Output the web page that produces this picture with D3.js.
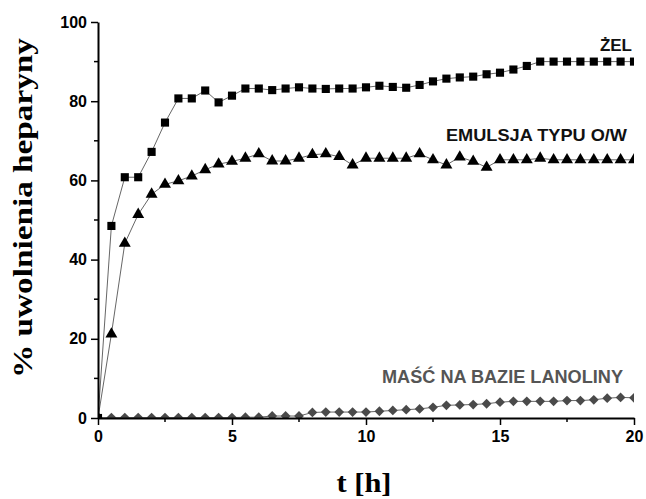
<!DOCTYPE html>
<html>
<head>
<meta charset="utf-8">
<script src="https://cdn.jsdelivr.net/npm/d3@7"></script>
<style>
  body { margin: 0; background: #fff; }
  svg { display: block; }
</style>
</head>
<body>
<div id="chart"></div>
<script>
// time points every 0.5 h
var hours = d3.range(0, 20.01, 0.5);

var zel = [0, 48.5, 60.8, 60.8, 67.2, 74.6, 80.7, 80.7, 82.7, 79.7,
  81.4, 83.2, 83.2, 82.8, 83.2, 83.5, 83.2, 83.1, 83.2, 83.2,
  83.5, 83.9, 83.6, 83.4, 84.1, 85.0, 85.7, 86.0, 86.2, 86.8,
  87.2, 88.0, 88.9, 90.0, 90.0, 90.0, 90.0, 90.0, 90.0, 90.0, 90.0];

var emulsja = [0, 21.2, 44.1, 51.4, 56.5, 59.0, 59.9, 61.1, 62.7, 64.1,
  64.8, 65.6, 66.7, 64.9, 64.9, 65.6, 66.5, 66.7, 66.0, 63.9,
  65.6, 65.6, 65.6, 65.6, 66.7, 65.2, 63.9, 65.9, 64.8, 63.3,
  65.2, 65.2, 65.2, 65.6, 65.2, 65.2, 65.2, 65.2, 65.2, 65.2, 65.2];

var masc = [0, 0.1, 0.1, 0.1, 0.1, 0.1, 0.1, 0.1, 0.1, 0.1,
  0.1, 0.2, 0.2, 0.5, 0.5, 0.5, 1.4, 1.5, 1.5, 1.5,
  1.5, 1.7, 1.9, 2.1, 2.3, 2.7, 3.2, 3.3, 3.4, 3.6,
  4.0, 4.2, 4.2, 4.2, 4.2, 4.4, 4.4, 4.6, 5.0, 5.2, 5.1];

var xTicks = [0, 5, 10, 15, 20];
var yTicks = [0, 20, 40, 60, 80, 100];

var width = 646, height = 499;
var margin = {left: 98, right: 12, top: 22, bottom: 81};

var svg = d3.select("#chart").append("svg")
  .attr("width", width).attr("height", height);

var x = d3.scaleLinear().domain([0, 20]).range([margin.left, width - margin.right]);
var y = d3.scaleLinear().domain([0, 100]).range([height - margin.bottom, margin.top]);

svg.append("clipPath").attr("id", "plot")
  .append("rect")
  .attr("x", x(0)).attr("y", 0)
  .attr("width", x(20) - x(0)).attr("height", y(0));

var plot = svg.append("g").attr("clip-path", "url(#plot)");

function series(values, color, symbol, size, rotate) {
  var pts = hours.map(function (h, i) { return [h, values[i]]; });
  plot.append("path")
    .datum(pts)
    .attr("fill", "none")
    .attr("stroke", "#555")
    .attr("stroke-width", 0.9)
    .attr("d", d3.line().x(function (d) { return x(d[0]); }).y(function (d) { return y(d[1]); }));
  plot.append("g").selectAll("path").data(pts).enter().append("path")
    .attr("d", d3.symbol().type(symbol).size(size))
    .attr("fill", color)
    .attr("transform", function (d) {
      return "translate(" + x(d[0]) + "," + y(d[1]) + ") rotate(" + rotate + ")";
    });
}

series(masc, "#4a4a4a", d3.symbolSquare, 48, 45);
series(emulsja, "#000", d3.symbolTriangle, 62, 0);
series(zel, "#000", d3.symbolSquare, 66, 0);

// axes
var xAxis = d3.axisBottom(x).tickValues(xTicks).tickSize(7).tickSizeOuter(0).tickPadding(6);
var yAxis = d3.axisLeft(y).tickValues(yTicks).tickSize(7).tickSizeOuter(0).tickPadding(4);

var gx = svg.append("g").attr("transform", "translate(0," + y(0) + ")").call(xAxis);
var gy = svg.append("g").attr("transform", "translate(" + x(0) + ",0)").call(yAxis);

// minor ticks
gx.selectAll(".minor").data(d3.range(2.5, 20, 5)).enter().append("line")
  .attr("x1", function (d) { return x(d); }).attr("x2", function (d) { return x(d); })
  .attr("y1", 0).attr("y2", 4).attr("stroke", "#000").attr("stroke-width", 1.5);
gy.selectAll(".minor").data(d3.range(10, 100, 20)).enter().append("line")
  .attr("y1", function (d) { return y(d); }).attr("y2", function (d) { return y(d); })
  .attr("x1", 0).attr("x2", -4).attr("stroke", "#000").attr("stroke-width", 1.5);

[gx, gy].forEach(function (g) {
  g.select(".domain").attr("stroke-width", 2);
  g.selectAll(".tick line").attr("stroke-width", 1.5);
  g.selectAll("text")
    .attr("font-family", "Liberation Sans, Arial, sans-serif")
    .attr("font-weight", "bold")
    .attr("font-size", 16)
    .attr("fill", "#000");
});

// series labels
var lab = "Liberation Sans, Arial, sans-serif";
svg.append("text").attr("x", 632).attr("y", 50.5)
  .attr("text-anchor", "end").attr("font-family", lab).attr("font-weight", "bold")
  .attr("font-size", 17).attr("fill", "#111").text("ŻEL");
svg.append("text").attr("x", 627).attr("y", 140.5)
  .attr("text-anchor", "end").attr("font-family", lab).attr("font-weight", "bold")
  .attr("font-size", 17).attr("textLength", 181).attr("lengthAdjust", "spacingAndGlyphs")
  .attr("fill", "#111").text("EMULSJA TYPU O/W");
svg.append("text").attr("x", 623).attr("y", 382.5)
  .attr("text-anchor", "end").attr("font-family", lab).attr("font-weight", "bold")
  .attr("font-size", 17.5).attr("textLength", 241).attr("lengthAdjust", "spacingAndGlyphs")
  .attr("fill", "#555").text("MAŚĆ NA BAZIE LANOLINY");

// axis titles
var serif = "Liberation Serif, Times New Roman, serif";
svg.append("text")
  .attr("transform", "translate(32," + 208 + ") rotate(-90)")
  .attr("text-anchor", "middle").attr("font-family", serif).attr("font-weight", "bold")
  .attr("font-size", 27).attr("textLength", 340).attr("lengthAdjust", "spacingAndGlyphs")
  .attr("fill", "#000").text("% uwolnienia heparyny");
svg.append("text")
  .attr("x", 364).attr("y", 492)
  .attr("text-anchor", "middle").attr("font-family", serif).attr("font-weight", "bold")
  .attr("font-size", 27).attr("textLength", 55).attr("lengthAdjust", "spacingAndGlyphs")
  .attr("fill", "#000").text("t [h]");
</script>
</body>
</html>
